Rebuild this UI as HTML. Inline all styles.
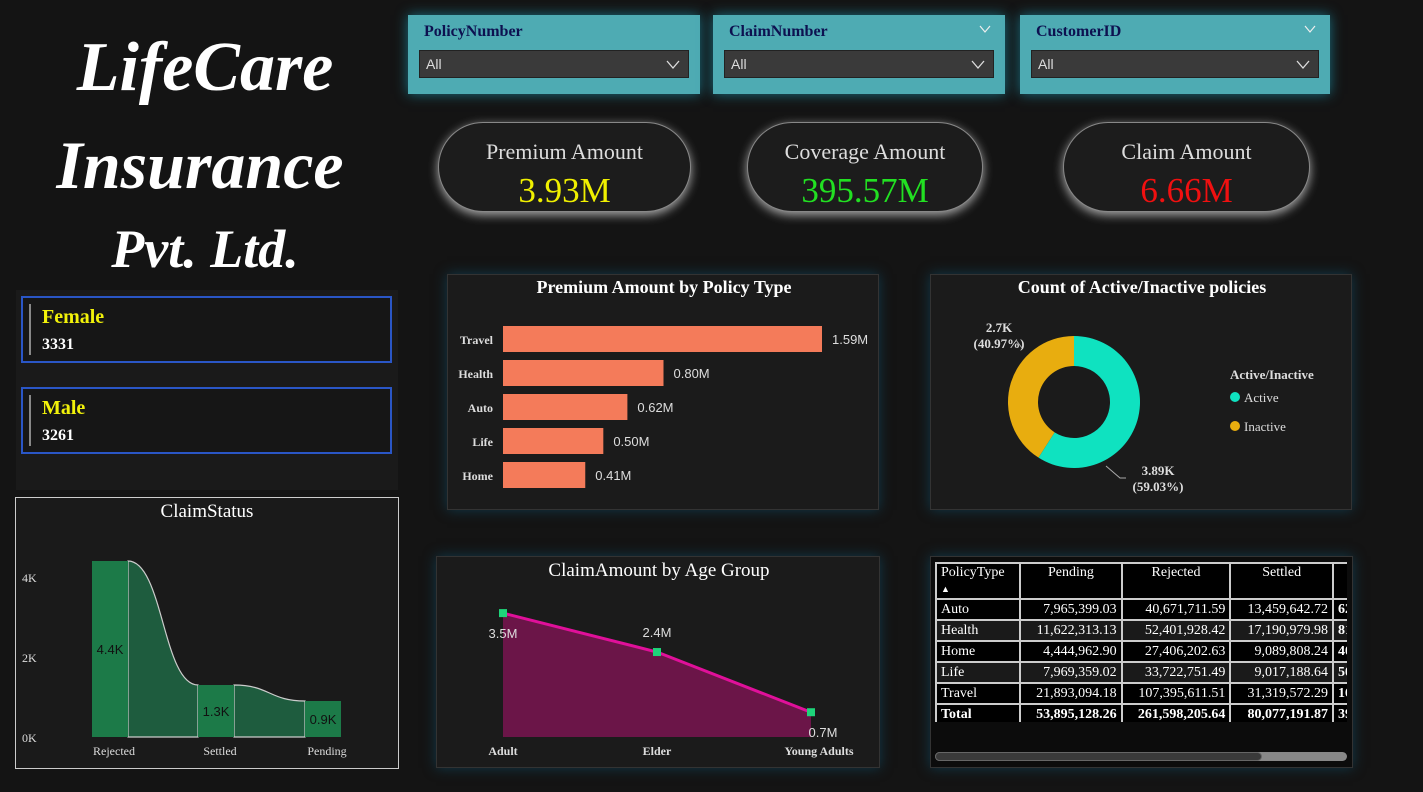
<!DOCTYPE html>
<html><head><meta charset="utf-8">
<style>
*{box-sizing:border-box;margin:0;padding:0}
body{width:1423px;height:792px;background:#141414;position:relative;overflow:hidden;font-family:"Liberation Serif",serif;color:#fff}
.abs{position:absolute}
.title{left:0;width:400px;text-align:center;font-style:italic;font-weight:bold;color:#fff}
.slicer{background:#4eabb3;box-shadow:0 0 12px #1a6f80}
.slicer .lbl{position:absolute;left:16px;top:8px;font-weight:bold;font-size:16px;color:#0d1150}
.slicer .dd{position:absolute;left:11px;top:35px;right:11px;height:28px;background:#3a3a3a;border:1px solid #222;font-family:"Liberation Sans",sans-serif;font-size:14px;color:#ddd;padding:5px 6px}
.chev{position:absolute;right:8px;top:9px}
.kpi{background:#1c1c1c;border:1px solid #888;border-radius:45px;box-shadow:0 3px 10px #aaa;text-align:center}
.kpi .t{font-size:22px;color:#ddd;margin-top:16px}
.kpi .v{font-size:35px;margin-top:6px}
.panel{background:#1b1b1b;border:1px solid #333;box-shadow:0 0 12px #12394a}
.gbox{border:2px solid #2a56c6;background:#161616}
.gbox .bar{position:absolute;left:6px;top:6px;bottom:6px;width:2px;background:#888}
table{border-collapse:collapse;font-size:14px}
td,th{border:2px solid #ccc;padding:1px 4px;height:21px;white-space:nowrap}
</style></head><body>
<div class="abs title" style="top:28px;font-size:70px;left:5px">LifeCare</div>
<div class="abs title" style="top:126px;font-size:68px">Insurance</div>
<div class="abs title" style="top:218px;font-size:54px;left:5px">Pvt. Ltd.</div>

<div class="abs" style="left:16px;top:290px;width:382px;height:200px;background:#1a1a1a">
 <div class="abs gbox" style="left:5px;top:6px;width:371px;height:67px"><div class="bar"></div>
  <div class="abs" style="left:19px;top:8px;font-size:20px;font-weight:bold;color:#f2f20a">Female</div>
  <div class="abs" style="left:19px;top:38px;font-size:16px;font-weight:bold">3331</div></div>
 <div class="abs gbox" style="left:5px;top:97px;width:371px;height:67px"><div class="bar"></div>
  <div class="abs" style="left:19px;top:8px;font-size:20px;font-weight:bold;color:#f2f20a">Male</div>
  <div class="abs" style="left:19px;top:38px;font-size:16px;font-weight:bold">3261</div></div>
</div>

<div class="abs" style="left:15px;top:497px;width:384px;height:272px;border:1px solid #ccc;background:#1a1a1a"></div>
<svg class="abs" style="left:0;top:0" width="1423" height="792" id="cs"></svg>

<div class="abs slicer" style="left:408px;top:15px;width:292px;height:79px"><div class="lbl">PolicyNumber</div><div class="dd">All<svg class="chev" width="14" height="9"><polyline points="1,1 7,8 13,1" fill="none" stroke="#ddd" stroke-width="1.3"/></svg></div></div>
<div class="abs slicer" style="left:713px;top:15px;width:292px;height:79px"><div class="lbl">ClaimNumber</div><svg class="chev" style="top:10px;right:14px" width="12" height="8"><polyline points="1,1 6,7 11,1" fill="none" stroke="#eee" stroke-width="1.2"/></svg><div class="dd">All<svg class="chev" width="14" height="9"><polyline points="1,1 7,8 13,1" fill="none" stroke="#ddd" stroke-width="1.3"/></svg></div></div>
<div class="abs slicer" style="left:1020px;top:15px;width:310px;height:79px"><div class="lbl">CustomerID</div><svg class="chev" style="top:10px;right:14px" width="12" height="8"><polyline points="1,1 6,7 11,1" fill="none" stroke="#eee" stroke-width="1.2"/></svg><div class="dd">All<svg class="chev" width="14" height="9"><polyline points="1,1 7,8 13,1" fill="none" stroke="#ddd" stroke-width="1.3"/></svg></div></div>

<div class="abs kpi" style="left:438px;top:122px;width:253px;height:90px"><div class="t">Premium Amount</div><div class="v" style="color:#f0f000">3.93M</div></div>
<div class="abs kpi" style="left:747px;top:122px;width:236px;height:90px"><div class="t">Coverage Amount</div><div class="v" style="color:#22e022">395.57M</div></div>
<div class="abs kpi" style="left:1063px;top:122px;width:247px;height:90px"><div class="t">Claim Amount</div><div class="v" style="color:#f01010">6.66M</div></div>

<div class="abs panel" style="left:447px;top:274px;width:432px;height:236px"></div>
<div class="abs panel" style="left:930px;top:274px;width:422px;height:236px"></div>
<div class="abs panel" style="left:436px;top:556px;width:444px;height:212px"></div>
<div class="abs panel" style="left:930px;top:556px;width:423px;height:212px;background:#0c0c0c"></div>

<svg class="abs" style="left:0;top:0" width="1423" height="792" id="main"></svg>

<div class="abs" style="left:935px;top:562px;width:412px;height:160px;overflow:hidden">
<table style="width:440px">
<tr style="background:#000;height:30px"><th style="text-align:left;font-weight:normal;width:82px;vertical-align:top">PolicyType<br><span style="font-size:9px">▲</span></th><th style="font-weight:normal;width:99px;vertical-align:top">Pending</th><th style="font-weight:normal;width:106px;vertical-align:top">Rejected</th><th style="font-weight:normal;width:100px;vertical-align:top">Settled</th><th style="width:40px"></th></tr>
<tr style="background:#000"><td>Auto</td><td align="right">7,965,399.03</td><td align="right">40,671,711.59</td><td align="right">13,459,642.72</td><td><b>62</b></td></tr>
<tr style="background:#1a1a1a"><td>Health</td><td align="right">11,622,313.13</td><td align="right">52,401,928.42</td><td align="right">17,190,979.98</td><td><b>81</b></td></tr>
<tr style="background:#000"><td>Home</td><td align="right">4,444,962.90</td><td align="right">27,406,202.63</td><td align="right">9,089,808.24</td><td><b>40</b></td></tr>
<tr style="background:#1a1a1a"><td>Life</td><td align="right">7,969,359.02</td><td align="right">33,722,751.49</td><td align="right">9,017,188.64</td><td><b>50</b></td></tr>
<tr style="background:#000"><td>Travel</td><td align="right">21,893,094.18</td><td align="right">107,395,611.51</td><td align="right">31,319,572.29</td><td><b>160</b></td></tr>
<tr style="background:#000;font-weight:bold"><td>Total</td><td align="right">53,895,128.26</td><td align="right">261,598,205.64</td><td align="right">80,077,191.87</td><td>395</td></tr>
</table></div>
<div class="abs" style="left:935px;top:752px;width:412px;height:9px;border-radius:5px;background:#888"><div style="width:327px;height:9px;border-radius:5px;background:#3a3a3a;border:1px solid #666"></div></div>

<script>
const NS='http://www.w3.org/2000/svg';
function mk(p,t,a,txt){const e=document.createElementNS(NS,t);for(const k in a)e.setAttribute(k,a[k]);if(txt!==undefined)e.textContent=txt;p.appendChild(e);return e;}
const main=document.getElementById('main');
const cs=document.getElementById('cs');

// Premium by policy type
const policyTypes=['Travel','Health','Auto','Life','Home'];
const premiumVals=[1.59,0.80,0.62,0.50,0.41];
const bx=v=>503+v/1.59*319;
let t=mk(main,'text',{x:664,y:293,'text-anchor':'middle','font-size':18,'font-weight':'bold',fill:'#fff','font-family':'Liberation Serif'},'Premium Amount by Policy Type');

policyTypes.forEach((c,i)=>{const y=326+i*34;
 const r=mk(main,'rect',{x:503,y:y,width:bx(premiumVals[i])-503,height:26,fill:'#f47b5a'});
 
 const l=mk(main,'text',{x:493,y:y+18,'text-anchor':'end','font-size':12,'font-weight':'bold',fill:'#ddd','font-family':'Liberation Serif'},c);
 
 const v=mk(main,'text',{x:bx(premiumVals[i])+10,y:y+18,'font-size':13,fill:'#ddd','font-family':'Liberation Sans'},premiumVals[i].toFixed(2)+'M');
 
});

// Donut
const statusLabels=['Inactive','Active'];
const statusCounts=[2.70,3.89];
const statusPct=['40.97%','59.03%'];
const statusColors=['#e8ad0f','#0fe2c0'];
t=mk(main,'text',{x:1142,y:293,'text-anchor':'middle','font-size':18,'font-weight':'bold',fill:'#fff','font-family':'Liberation Serif'},'Count of Active/Inactive policies');

const cx=1074,cy=402,R=66,ri=36,tot=statusCounts.reduce((a,b)=>a+b,0);
let ang=0;
statusCounts.forEach((v,i)=>{const a0=ang,a1=ang-v/tot*2*Math.PI;ang=a1;
 const P=(r,a)=>[cx+r*Math.sin(a),cy-r*Math.cos(a)];
 const large=Math.abs(a1-a0)>Math.PI?1:0;
 const [x0,y0]=P(R,a0),[x1,y1]=P(R,a1),[x2,y2]=P(ri,a1),[x3,y3]=P(ri,a0);
 const p=mk(main,'path',{d:`M${x0},${y0}A${R},${R} 0 ${large} 0 ${x1},${y1}L${x2},${y2}A${ri},${ri} 0 ${large} 1 ${x3},${y3}Z`,fill:statusColors[i]});
 
});
[[999,332,statusCounts[0].toFixed(1)+'K','('+statusPct[0]+')'],[1158,475,statusCounts[1].toFixed(2)+'K','('+statusPct[1]+')']].forEach((d,i)=>{
 const g=mk(main,'text',{x:d[0],y:d[1],'font-size':13,'font-weight':'bold',fill:'#ddd','font-family':'Liberation Serif','text-anchor':'middle'});
 
 mk(g,'tspan',{x:d[0],dy:0},d[2]);mk(g,'tspan',{x:d[0],dy:16},d[3]);
});
mk(main,'polyline',{points:'1016,340 1022,348',stroke:'#aaa',fill:'none'});
mk(main,'polyline',{points:'1106,466 1120,478 1126,478',stroke:'#aaa',fill:'none'});
t=mk(main,'text',{x:1230,y:379,'font-size':13,'font-weight':'bold',fill:'#ddd','font-family':'Liberation Serif'},'Active/Inactive');

[['Active',statusColors[1],397],['Inactive',statusColors[0],426]].forEach(l=>{
 const c=mk(main,'circle',{cx:1235,cy:l[2],r:5,fill:l[1]});
 const tx=mk(main,'text',{x:1244,y:l[2]+5,'font-size':13,fill:'#ddd','font-family':'Liberation Serif'},l[0]);
 
});

// Age group area
const ageGroups=['Adult','Elder','Young Adults'];
const ageVals=[3.5,2.4,0.7];
const ax=i=>503+i*154, ay=v=>737-v*35.4;
t=mk(main,'text',{x:659,y:576,'text-anchor':'middle','font-size':19,fill:'#fff','font-family':'Liberation Serif'},'ClaimAmount by Age Group');

let d='M'+ax(0)+',737 '+ageVals.map((v,i)=>'L'+ax(i)+','+ay(v)).join(' ')+' L'+ax(ageVals.length-1)+',737Z';
let e=mk(main,'path',{d:d,fill:'#6b1548'});
e=mk(main,'polyline',{points:ageVals.map((v,i)=>ax(i)+','+ay(v)).join(' '),fill:'none',stroke:'#e0109a','stroke-width':3});

ageVals.forEach((v,i)=>{
 const m=mk(main,'rect',{x:ax(i)-4,y:ay(v)-4,width:8,height:8,fill:'#1ed47a'});
 const off=[[0,25],[0,-15],[12,25]][i];
 const l=mk(main,'text',{x:ax(i)+off[0],y:ay(v)+off[1],'text-anchor':'middle','font-size':13,fill:'#ddd','font-family':'Liberation Sans'},v+'M');
 
 const c=mk(main,'text',{x:ax(i)+(i==2?8:0),y:755,'text-anchor':'middle','font-size':12,'font-weight':'bold',fill:'#ddd','font-family':'Liberation Serif'},ageGroups[i]);
 
});

// ClaimStatus ribbon chart
const claimStatuses=['Rejected','Settled','Pending'];
const claimCounts=[4.4,1.3,0.9];
const yTicks=[0,2,4];
const sy=v=>737-v*40, sx=[92,198,305], bw=36;
t=mk(cs,'text',{x:207,y:517,'text-anchor':'middle','font-size':19,fill:'#fff','font-family':'Liberation Serif'},'ClaimStatus');

yTicks.forEach(v=>{const l=mk(cs,'text',{x:22,y:sy(v)+5,'font-size':12,fill:'#ddd','font-family':'Liberation Serif'},v+'K');
 });
for(let i=0;i<claimCounts.length-1;i++){
 const x0=sx[i]+bw,x1=sx[i+1],y0=sy(claimCounts[i]),y1=sy(claimCounts[i+1]),m=(x0+x1)/2;
 const r=mk(cs,'path',{d:`M${x0},${y0} C${m},${y0} ${m},${y1} ${x1},${y1} L${x1},737 L${x0},737Z`,fill:'#1e5c3e',stroke:'#ccc','stroke-width':1.2});
 
}
claimCounts.forEach((v,i)=>{
 const r=mk(cs,'rect',{x:sx[i],y:sy(v),width:bw,height:737-sy(v),fill:'#1c7a48'});
 
 const l=mk(cs,'text',{x:sx[i]+bw/2,y:(sy(v)+737)/2+5,'text-anchor':'middle','font-size':13,fill:'#111','font-family':'Liberation Sans'},v+'K');
 
 const c=mk(cs,'text',{x:sx[i]+22,y:755,'text-anchor':'middle','font-size':12,fill:'#ddd','font-family':'Liberation Serif'},claimStatuses[i]);
 
});
</script>
</body></html>
